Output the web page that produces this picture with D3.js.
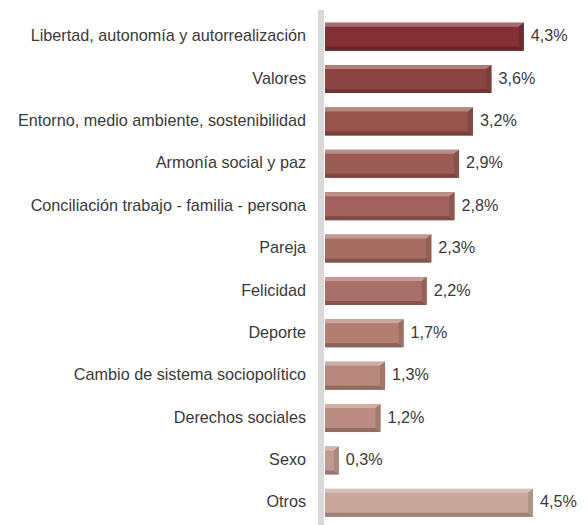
<!DOCTYPE html>
<html><head><meta charset="utf-8">
<script src="https://cdn.jsdelivr.net/npm/d3@7"></script>
<style>body{margin:0;background:#fff}svg{display:block}</style>
</head><body>
<script>
const categories = ["Libertad, autonomía y autorrealización","Valores","Entorno, medio ambiente, sostenibilidad","Armonía social y paz","Conciliación trabajo - familia - persona","Pareja","Felicidad","Deporte","Cambio de sistema sociopolítico","Derechos sociales","Sexo","Otros"];
const values = [4.3,3.6,3.2,2.9,2.8,2.3,2.2,1.7,1.3,1.2,0.3,4.5];
const valueLabels = ["4,3%","3,6%","3,2%","2,9%","2,8%","2,3%","2,2%","1,7%","1,3%","1,2%","0,3%","4,5%"];
const barColors = ["#832f35","#8b4541","#96544b","#9c5c53","#a0625a","#a66d62","#a87066","#b27e72","#b8887c","#bb8c80","#c09a8f","#c8a69b"];

const W=588,H=525;
const svg=d3.select("body").append("svg").attr("width",W).attr("height",H);
const x=d3.scaleLinear().domain([0,4.5]).range([325,533]);
const y=d3.scaleBand().domain(categories).range([15.5,524]).paddingInner(0.34).paddingOuter(0.17);

svg.append("rect").attr("x",318).attr("y",10).attr("width",6).attr("height",H-10).attr("fill","#d9d9da");

const g=svg.selectAll("g.bar").data(categories).enter().append("g");
const bw=4;
g.each(function(c,i){
  const s=d3.select(this);
  const x0=x(0),x1=x(values[i]),y0=y(c),h=y.bandwidth(),y1=y0+h;
  const base=d3.color(barColors[i]);
  const b=Math.min(5,(x1-x0)/2);
  s.append("rect").attr("x",x0).attr("y",y0).attr("width",x1-x0).attr("height",h).attr("fill",base);
  s.append("path").attr("d",`M${x0},${y0}L${x1},${y0}L${x1-b},${y0+bw}L${x0},${y0+bw}Z`).attr("fill",d3.interpolateRgb(base,"#ffffff")(0.3));
  s.append("path").attr("d",`M${x0},${y1}L${x1},${y1}L${x1-b},${y1-bw}L${x0},${y1-bw}Z`).attr("fill",d3.interpolateRgb(base,"#000000")(0.22));
  s.append("path").attr("d",`M${x1},${y0}L${x1},${y1}L${x1-b},${y1-bw}L${x1-b},${y0+bw}Z`).attr("fill",d3.interpolateRgb(base,"#000000")(0.12));
});

svg.selectAll("text.cat").data(categories).enter().append("text")
  .attr("x",306).attr("y",d=>y(d)+y.bandwidth()/2-1).attr("dy","0.35em")
  .attr("text-anchor","end").attr("font-family","Liberation Sans, Arial, sans-serif").attr("font-size",16.2)
  .attr("fill","#3a3a3a").text(d=>d);

svg.selectAll("text.val").data(categories).enter().append("text")
  .attr("x",(d,i)=>x(values[i])+7).attr("y",d=>y(d)+y.bandwidth()/2-1).attr("dy","0.35em")
  .attr("font-family","Liberation Sans, Arial, sans-serif").attr("font-size",16.2)
  .attr("fill","#3a3a3a").text((d,i)=>valueLabels[i]);
</script>
</body></html>
